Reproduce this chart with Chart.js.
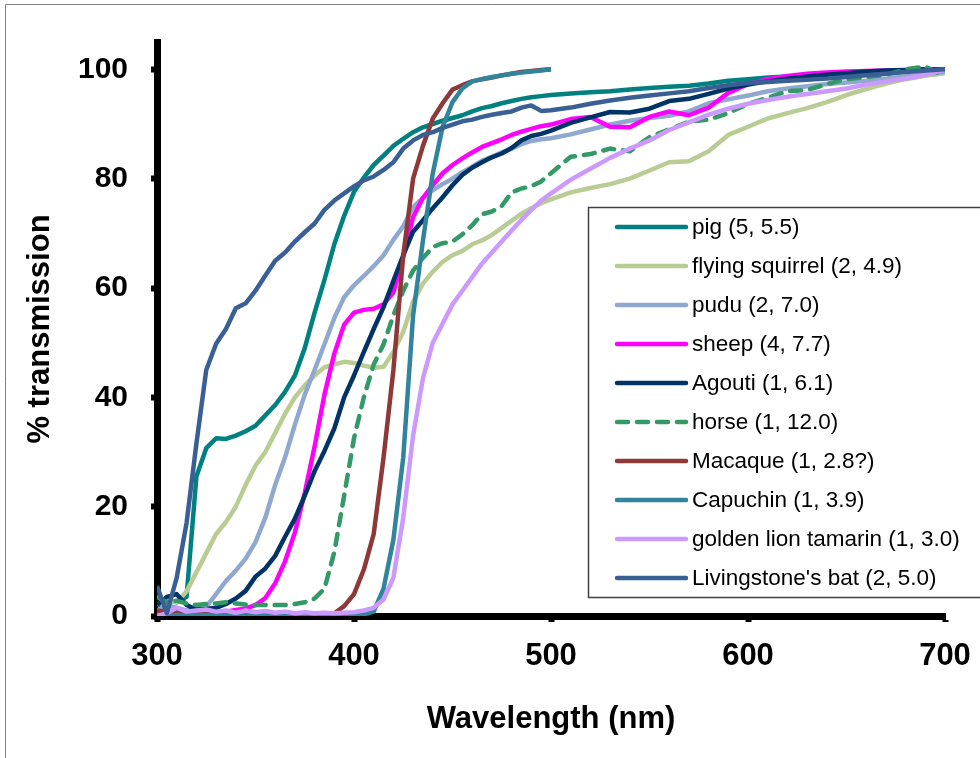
<!DOCTYPE html>
<html>
<head>
<meta charset="utf-8">
<title>Transmission spectra</title>
<script src="https://cdn.jsdelivr.net/npm/chart.js@4.4.1/dist/chart.umd.min.js"></script>
<style>
  html, body { margin: 0; padding: 0; background: #fff; }
  #wrap { width: 980px; height: 758px; }
</style>
</head>
<body>
<div id="wrap"><canvas id="specChart" width="980" height="758"></canvas></div>
<script>
// Wavelength grid (nm)
const wavelengths = [
  300, 305, 310, 315, 320, 325, 330, 335, 340, 345,
  350, 355, 360, 365, 370, 375, 380, 385, 390, 395,
  400, 405, 410, 415, 420, 425, 430, 435, 440, 445,
  450, 455, 460, 465, 470, 475, 480, 485, 490, 495,
  500, 510, 520, 530, 540, 550, 560, 570, 580, 590,
  600, 610, 620, 630, 640, 650, 660, 670, 680, 690, 700
];

// % transmission
const pig = [
  2, 3, 2.5, 3.5, 25.5, 30.7, 32.5, 32.4, 33, 33.8,
  34.8, 36.7, 38.6, 41, 44, 49, 55.5, 61.5, 68, 73.2,
  77.6, 80.2, 82.5, 84.2, 86, 87.3, 88.5, 89.4, 90, 90.6,
  91.1, 91.6, 92.3, 92.9, 93.3, 93.8, 94.2, 94.6, 94.9, 95.1,
  95.3, 95.6, 95.8, 96, 96.3, 96.6, 96.8, 97, 97.4, 97.9,
  98.2, 98.5, 98.7, 98.9, 99.1, 99.3, 99.4, 99.6, 99.7, 99.9, 100
];
const flyingSquirrel = [
  2, 3, 2.5, 4.5, 8, 11.5, 15, 17.2, 20, 24,
  27.5, 30, 33.5, 37, 40, 42.2, 44, 45.5, 46, 46.5,
  46.3, 45.8, 45.4, 45.6, 48.3, 52, 57.5, 60.8, 63, 64.8,
  66, 66.8, 68, 68.7, 69.7, 71, 72.3, 73.6, 74.6, 75.5,
  76.2, 77.5, 78.3, 79, 80, 81.5, 83, 83.2, 85, 88,
  89.5, 91, 92, 92.9, 94, 95.3, 96.4, 97.4, 98.2, 98.8, 99.3
];
const pudu = [
  1, 2, 1.5, 1, 1.5, 1.7, 4, 6.4, 8.3, 10.5,
  13.5, 18, 24, 29, 35, 40.5, 45, 49.7, 54.5, 58.3,
  60.5, 62.2, 64, 66, 68.8, 71.3, 74.8, 76.5, 77.9, 79,
  80, 81.2, 82.2, 83.3, 84, 84.8, 85.5, 86.3, 86.9, 87.2,
  87.4, 88.1, 89, 89.9, 90.6, 91.1, 91.5, 92.3, 93.8, 94.5,
  95.2, 96, 96.5, 96.9, 97.3, 97.6, 97.9, 98.3, 98.7, 99.1, 99.5
];
const sheep = [
  0.3, 0.3, 0.5, 0.5, 0.3, 0.4, 0.5, 0.8, 1.1, 1.4,
  2, 3.3, 6, 10, 15.3, 22.5, 31, 40.5, 48, 53.3,
  55.5, 56, 56.2, 57, 59.2, 65.7, 73, 76.5, 78.8, 81,
  82.5, 83.7, 84.8, 85.8, 86.5, 87.2, 88, 88.6, 89.1, 89.6,
  89.9, 90.9, 91.3, 89.5, 89.4, 91.3, 92.3, 91.6, 93, 95.7,
  97.3, 98.2, 98.8, 99.2, 99.4, 99.6, 99.7, 99.8, 99.8, 99.9, 100
];
const agouti = [
  2, 3.5, 4, 2, 1.2, 1.3, 1.5, 2.2, 3.2, 4.6,
  7.2, 8.7, 11, 14.5, 17.8, 22, 26.5, 30.2, 34.3, 40,
  44, 48.3, 52.5, 56.5, 61.3, 66, 70.3, 72.4, 74.6, 76.6,
  78.8, 80.7, 82, 83, 83.9, 84.6, 85.6, 87, 87.8, 88.2,
  88.8, 90.2, 91.2, 92.2, 92.1, 92.8, 94.2, 94.6, 95.5, 96.5,
  97.2, 97.8, 98.3, 98.7, 99, 99.3, 99.6, 99.8, 99.9, 100, 100
];
const horse = [
  3.5, 2.5, 2.8, 2.3, 2, 2.2, 2.3, 2.5, 2.3, 2.1,
  2, 2, 2, 2, 2.2, 2.5, 3.2, 5, 11.7, 22,
  32.5, 40, 46, 49.7, 55, 59.5, 63.2, 65.5, 67.5, 68.2,
  68.5, 69.8, 71.5, 73.5, 74, 75, 77.5, 78.2, 78.6, 79.5,
  81, 84, 84.5, 85.5, 85, 87.6, 89, 90.4, 90.8, 92,
  93.7, 94.8, 96, 96.2, 97.3, 98.2, 98.6, 99, 100, 100.5, 98.7
];
const macaque = [
  1, 0.8, 1, 0.6, 0.5, 0.5, 0.4, 0.4, 0.3, 0.3,
  0.2, 0.2, 0.2, 0.2, 0.2, 0.2, 0.2, 0.2, 0.5, 1.8,
  4, 8.5, 15, 29, 45, 66, 80, 86, 91, 93.8,
  96.3, 97.1, 97.8, 98.2, 98.5, 98.9, 99.2, 99.5, 99.7, 99.9,
  100, null, null, null, null, null, null, null, null, null,
  null, null, null, null, null, null, null, null, null, null, null
];
const capuchin = [
  0, 0, 0.2, 0.2, 0.2, 0.2, 0.2, 0.2, 0.2, 0.2,
  0.2, 0.2, 0.2, 0.2, 0.2, 0.2, 0.2, 0.2, 0.2, 0.2,
  0.2, 0.3, 0.8, 5, 14, 29, 55, 68.7, 81, 89.5,
  94, 96.5, 97.8, 98.2, 98.6, 98.9, 99.2, 99.4, 99.6, 99.8,
  100, null, null, null, null, null, null, null, null, null,
  null, null, null, null, null, null, null, null, null, null, null
];
const goldenLionTamarin = [
  0, 0.5, 1.5, 0.8, 1, 1.2, 0.8, 1, 0.6, 1,
  0.7, 0.9, 0.6, 0.8, 0.5, 0.7, 0.5, 0.6, 0.5, 0.6,
  0.7, 1, 1.5, 3, 7, 18, 33, 43.5, 50, 53.5,
  57, 59.5, 62, 64.5, 66.5, 68.5, 70.5, 72.5, 74.3, 76,
  77.3, 79.8, 81.8, 83.8, 85.5, 87, 88.9, 90.3, 91.7, 92.8,
  93.7, 94.4, 95, 95.5, 96, 96.5, 97.2, 97.8, 98.3, 99, 100
];
const livingstonesBat = [
  5.5, 0.5, 7, 17, 31.5, 45, 49.8, 52.5, 56.3, 57.2,
  59.5, 62.3, 65, 66.5, 68.5, 70.2, 71.8, 74.3, 76, 77.3,
  78.6, 79.7, 80.4, 81.6, 83, 85.5, 87, 88, 88.5, 89.3,
  89.9, 90.5, 90.8, 91.3, 91.7, 92, 92.3, 93, 93.4, 92.4,
  92.5, 93, 93.7, 94.3, 94.8, 95.2, 95.6, 96, 96.6, 97.1,
  97.5, 97.7, 97.9, 98.1, 98.3, 98.6, 98.9, 99.2, 99.5, 99.8, 100
];

const seriesNames = [
  'pig (5, 5.5)', 'flying squirrel (2, 4.9)', 'pudu (2, 7.0)', 'sheep (4, 7.7)',
  'Agouti (1, 6.1)', 'horse (1, 12.0)', 'Macaque (1, 2.8?)', 'Capuchin (1, 3.9)',
  'golden lion tamarin (1, 3.0)', "Livingstone's bat (2, 5.0)"
];
const seriesValues = [pig, flyingSquirrel, pudu, sheep, agouti, horse, macaque, capuchin, goldenLionTamarin, livingstonesBat];
const seriesColors = ['#008080', '#B8CC94', '#8FA8CF', '#FF00FF', '#003366', '#339966', '#8E3838', '#31849B', '#CC99FF', '#3A5F94'];

const yTicks = [0, 20, 40, 60, 80, 100];
const xTicks = [300, 400, 500, 600, 700];

const FONT = "'Liberation Sans', Arial, sans-serif";
Chart.defaults.font.family = FONT;
Chart.defaults.color = '#000';

const datasets = seriesValues.map((vals, i) => ({
  label: seriesNames[i],
  data: vals.map((v, j) => ({ x: wavelengths[j], y: v })),
  borderColor: seriesColors[i],
  backgroundColor: seriesColors[i],
  borderWidth: 4.5,
  borderDash: i === 5 ? [11, 9] : [],
  borderCapStyle: i === 5 ? 'round' : 'butt',
  borderJoinStyle: 'round',
  pointRadius: 0,
  tension: 0,
  spanGaps: false,
  fill: false,
  order: seriesValues.length - i
}));

// white page with the thin grey frame at top / left
const framePlugin = {
  id: 'frame',
  beforeDraw(chart) {
    const ctx = chart.ctx;
    ctx.save();
    ctx.fillStyle = '#fff';
    ctx.fillRect(0, 0, chart.width, chart.height);
    ctx.strokeStyle = '#808080';
    ctx.lineWidth = 1;
    ctx.beginPath();
    ctx.moveTo(5.5, chart.height);
    ctx.lineTo(5.5, 4.5);
    ctx.lineTo(chart.width, 4.5);
    ctx.stroke();
    ctx.restore();
  }
};

// legend box sitting inside the plot, running off the right edge
const insideLegend = {
  id: 'insideLegend',
  afterDatasetsDraw(chart) {
    const ctx = chart.ctx;
    const left = 588, top = 207, bottom = 597;
    ctx.save();
    ctx.fillStyle = '#fff';
    ctx.fillRect(left, top, chart.width - left + 10, bottom - top);
    ctx.strokeStyle = '#404040';
    ctx.lineWidth = 1.5;
    ctx.strokeRect(left + 0.5, top + 0.5, chart.width - left + 10, bottom - top);
    ctx.font = '22.5px ' + FONT;
    ctx.textBaseline = 'middle';
    ctx.textAlign = 'left';
    chart.data.datasets.forEach((ds, i) => {
      const y = 227 + i * 39;
      ctx.beginPath();
      ctx.strokeStyle = ds.borderColor;
      ctx.lineWidth = 4.5;
      ctx.lineCap = 'round';
      ctx.setLineDash(ds.borderDash || []);
      ctx.moveTo(617, y);
      ctx.lineTo(686, y);
      ctx.stroke();
      ctx.setLineDash([]);
      ctx.fillStyle = '#000';
      ctx.fillText(ds.label, 692, y + 1);
    });
    ctx.restore();
  }
};

new Chart(document.getElementById('specChart').getContext('2d'), {
  type: 'line',
  data: { datasets: datasets },
  plugins: [framePlugin, insideLegend],
  options: {
    responsive: false,
    devicePixelRatio: 1,
    animation: false,
    layout: { padding: { left: 0, top: 42, right: 35, bottom: 0 } },
    plugins: {
      legend: { display: false },
      tooltip: { enabled: false }
    },
    scales: {
      x: {
        type: 'linear',
        min: 300,
        max: 700,
        afterBuildTicks: (s) => { s.ticks = xTicks.map(v => ({ value: v })); },
        afterFit: (s) => { s.height = 142; s.paddingLeft = 0; s.paddingRight = 0; },
        ticks: {
          color: '#000',
          padding: 16,
          maxRotation: 0,
          font: { size: 31, weight: 'bold' }
        },
        grid: { drawOnChartArea: false, drawTicks: true, tickLength: 6, tickWidth: 6, tickColor: '#000', color: '#000' },
        border: { display: true, color: '#000', width: 7 },
        title: {
          display: true,
          text: 'Wavelength (nm)',
          color: '#000',
          font: { size: 31, weight: 'bold' },
          padding: { top: 0, bottom: 20 }
        }
      },
      y: {
        min: 0,
        max: 105,
        afterBuildTicks: (s) => { s.ticks = yTicks.map(v => ({ value: v })); },
        afterFit: (s) => { s.width = 157; },
        ticks: {
          color: '#000',
          padding: 23,
          font: { size: 30, weight: 'bold' }
        },
        grid: { drawOnChartArea: false, drawTicks: true, tickLength: 6, tickWidth: 6, tickColor: '#000', color: '#000' },
        border: { display: true, color: '#000', width: 7 },
        title: {
          display: true,
          text: '% transmission',
          color: '#000',
          font: { size: 31, weight: 'bold' },
          padding: { top: 22, bottom: 0 }
        }
      }
    }
  }
});
</script>
</body>
</html>
